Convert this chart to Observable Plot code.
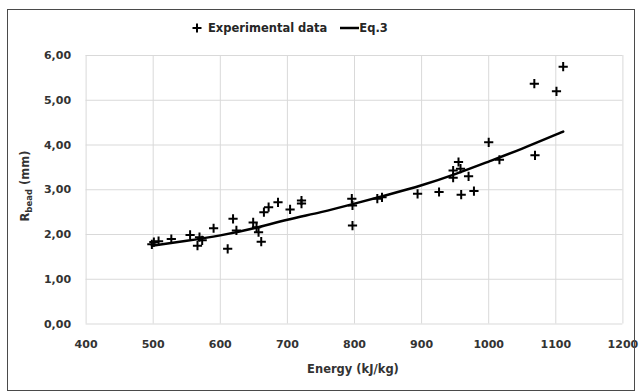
<!DOCTYPE html>
<html>
<head>
<meta charset="utf-8">
<script src="https://cdn.jsdelivr.net/npm/d3@7"></script>
<script src="https://cdn.jsdelivr.net/npm/@observablehq/plot@0.6"></script>
<style>
  html, body { margin: 0; padding: 0; background: white; }
  #wrap { position: relative; width: 641px; height: 392px; overflow: hidden; background: white; }
  #frame { position: absolute; left: 7px; top: 9px; width: 626px; height: 380px; border: 1.5px solid #4a4a4a; pointer-events: none; }
  #legend { position: absolute; left: 190px; top: 21px; display: flex; align-items: center;
            font-family: "DejaVu Sans", sans-serif; font-weight: bold; font-size: 11.5px; color: #262626; white-space: nowrap; }
  #legend .item { display: flex; align-items: center; }
  #chart { position: absolute; left: 0; top: 0; }
</style>
</head>
<body>
<div id="wrap">
  <div id="chart"></div>
  <div id="legend">
    <span class="item"><svg width="14" height="14" style="margin-right:4px"><path d="M2.5,7H11.5M7,2.5V11.5" stroke="black" stroke-width="2"/></svg>Experimental data</span>
    <span class="item" style="margin-left:13px"><svg width="19" height="14"><path d="M0,7H19" stroke="black" stroke-width="2.5"/></svg>Eq.3</span>
  </div>
  <div id="frame"></div>
</div>
<script>
// Experimental data
const energy = [498, 501, 508, 527, 555, 566, 569, 573, 590, 611, 619, 624,
                649, 654, 657, 661, 665, 672, 686, 704, 721, 721, 796, 797, 797,
                834, 841, 894, 926, 959, 978, 947, 947, 955, 958, 970, 1000, 1016,
                1068, 1101, 1111, 1069];
const rbead  = [1.78, 1.83, 1.85, 1.90, 1.99, 1.75, 1.94, 1.87, 2.14, 1.68, 2.35, 2.09,
                2.27, 2.16, 2.05, 1.84, 2.50, 2.61, 2.72, 2.56, 2.69, 2.76, 2.80, 2.65, 2.20,
                2.80, 2.83, 2.91, 2.95, 2.89, 2.97, 3.27, 3.43, 3.62, 3.47, 3.30, 4.06, 3.67,
                5.37, 5.20, 5.75, 3.77];
// Eq.3 curve
const eqEnergy = [498, 550, 600, 650, 700, 750, 800, 850, 900, 950, 1000, 1050, 1100, 1111];
const eqR      = [1.75, 1.86, 1.98, 2.14, 2.33, 2.50, 2.69, 2.89, 3.10, 3.35, 3.63, 3.92, 4.23, 4.30];
// Ticks
const xTicks = [400, 500, 600, 700, 800, 900, 1000, 1100, 1200];
const yTicks = [0, 1, 2, 3, 4, 5, 6];

const points = energy.map((e, i) => ({energy: e, r: rbead[i]}));
const curve = eqEnergy.map((e, i) => ({energy: e, r: eqR[i]}));
const fmtY = d => d3.format(".2f")(d).replace(".", ",");
const fmtX = d => String(d);
const plusSym = {
  draw(ctx, size) {
    const r = Math.sqrt(size / Math.PI);
    ctx.moveTo(-r, 0); ctx.lineTo(r, 0);
    ctx.moveTo(0, -r); ctx.lineTo(0, r);
  }
};

const chart = Plot.plot({
  width: 641,
  height: 392,
  marginLeft: 85.6,
  marginRight: 18.6,
  marginTop: 55,
  marginBottom: 68.5,
  style: {fontFamily: "DejaVu Sans, sans-serif", fontWeight: "bold", fontSize: "11px", color: "#333", background: "transparent"},
  x: {domain: [400, 1200]},
  y: {domain: [0, 6]},
  marks: [
    Plot.gridX(xTicks, {stroke: "#d9d9d9", strokeOpacity: 1, strokeWidth: 1}),
    Plot.gridY(yTicks, {stroke: "#d9d9d9", strokeOpacity: 1, strokeWidth: 1}),
    Plot.axisX({ticks: xTicks, tickSize: 0, tickPadding: 16, tickFormat: fmtX, label: null}),
    Plot.axisY({ticks: yTicks, tickSize: 0, tickPadding: 15, tickFormat: fmtY, label: null}),
    Plot.line(curve, {x: "energy", y: "r", curve: "natural", stroke: "black", strokeWidth: 2.5}),
    Plot.dot(points, {x: "energy", y: "r", symbol: plusSym, r: 4.6, fill: "none", stroke: "black", strokeWidth: 2})
  ]
});
document.getElementById("chart").appendChild(chart);

// Axis titles
const svg = d3.select(chart);
svg.append("text")
  .attr("x", 353).attr("y", 369).attr("dy", "0.35em")
  .attr("text-anchor", "middle").attr("fill", "#333")
  .style("font-size", "11.5px").style("font-weight", "bold")
  .text("Energy (kJ/kg)");
const yt = svg.append("text")
  .attr("transform", "translate(25,186) rotate(-90)")
  .attr("text-anchor", "middle").attr("dy", "0.35em").attr("fill", "#333")
  .style("font-size", "11.5px").style("font-weight", "bold");
yt.append("tspan").text("R");
yt.append("tspan").attr("dy", "3").style("font-size", "8.5px").text("bead");
yt.append("tspan").attr("dy", "-3").text(" (mm)");
</script>
</body>
</html>
